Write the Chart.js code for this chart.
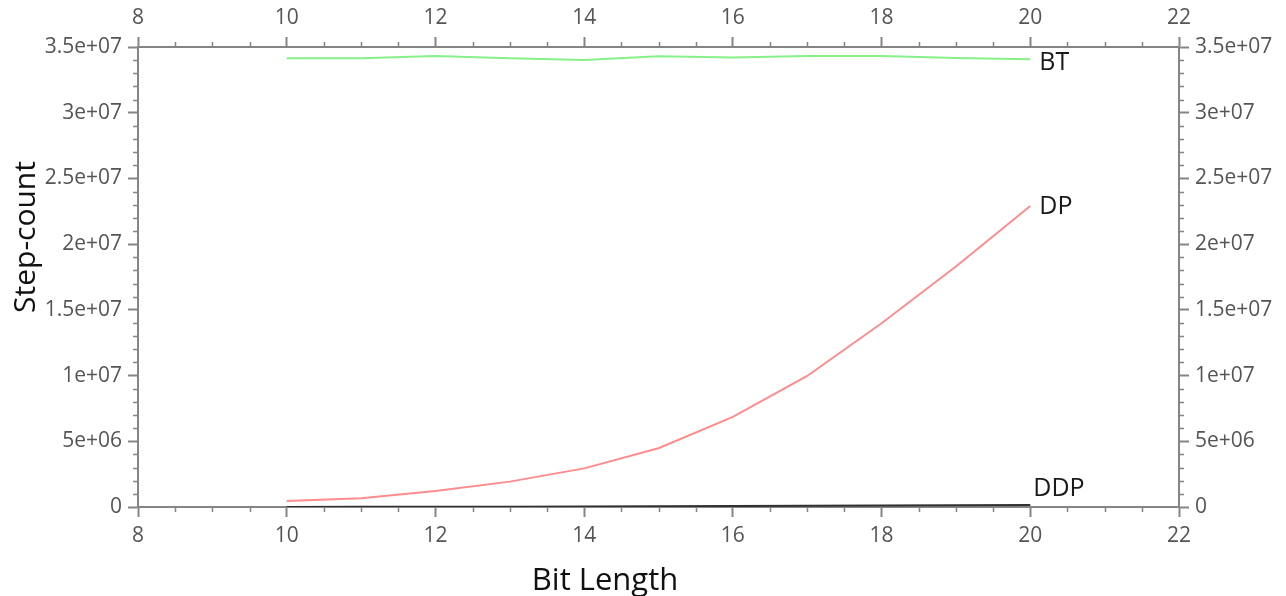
<!DOCTYPE html>
<html>
<head>
<meta charset="utf-8">
<script src="https://cdn.jsdelivr.net/npm/chart.js@4.4.1/dist/chart.umd.min.js"></script>
<style>
  html, body { margin: 0; padding: 0; background: #fff; overflow: hidden; }
  #wrap { width: 1286px; height: 606px; }
</style>
</head>
<body>
<div id="wrap"><canvas id="stepChart" width="1286" height="606"></canvas></div>
<script>
// dados
const bitLengths = [10, 11, 12, 13, 14, 15, 16, 17, 18, 19, 20];
const btSteps  = [3.414e7, 3.414e7, 3.431e7, 3.414e7, 3.401e7, 3.429e7, 3.420e7, 3.431e7, 3.431e7, 3.416e7, 3.406e7];
const dpSteps  = [0.46e6, 0.66e6, 1.22e6, 1.93e6, 2.94e6, 4.47e6, 6.85e6, 9.97e6, 1.398e7, 1.83e7, 2.29e7];
const ddpSteps = [5e3, 1e4, 1.5e4, 2.5e4, 4e4, 6e4, 8e4, 1e5, 1.2e5, 1.4e5, 1.6e5];
const seriesNames = ['BT', 'DP', 'DDP'];
const xTitle = 'Bit Length';
const yTitle = 'Step-count';

const xTicks = { min: 8, max: 22, step: 2, minor: 0.5 };
const yTicks = { min: 0, max: 3.5e7, step: 5e6, minor: 1e6 };

const axisGray = '#858585';
const labelGray = '#555555';
const font = 'Open Sans';

function fmtSci(v) {
  if (v === 0) return '0';
  return v.toExponential().replace(/e([+-])(\d)$/, 'e$10$2');
}

function toPoints(ys) {
  return bitLengths.map((x, i) => ({ x: x, y: ys[i] }));
}

// ticks menores nos quatro lados
const minorTicks = {
  id: 'minorTicks',
  afterDraw(chart) {
    const { ctx, chartArea: a, scales: { x, y } } = chart;
    ctx.save();
    ctx.strokeStyle = axisGray;
    ctx.lineWidth = 1.5;
    ctx.beginPath();
    for (let v = xTicks.min; v <= xTicks.max; v += xTicks.minor) {
      if (Math.abs(v % xTicks.step) < 1e-9) continue;
      const px = Math.round(x.getPixelForValue(v)) + 0.5;
      ctx.moveTo(px, a.top); ctx.lineTo(px, a.top - 5);
      ctx.moveTo(px, a.bottom); ctx.lineTo(px, a.bottom + 5);
    }
    for (let v = yTicks.min; v <= yTicks.max; v += yTicks.minor) {
      if (Math.abs(v % yTicks.step) < 1) continue;
      const py = Math.round(y.getPixelForValue(v)) + 0.5;
      ctx.moveTo(a.left, py); ctx.lineTo(a.left - 5, py);
      ctx.moveTo(a.right, py); ctx.lineTo(a.right + 5, py);
    }
    ctx.stroke();
    ctx.restore();
  }
};

// títulos dos eixos (fora do centro, como no original)
const axisTitles = {
  id: 'axisTitles',
  afterDraw(chart) {
    const { ctx } = chart;
    ctx.save();
    ctx.fillStyle = '#111';
    ctx.font = '31px "' + font + '"';
    ctx.textAlign = 'center';
    ctx.textBaseline = 'alphabetic';
    ctx.fillText(xTitle, 605, 590);
    ctx.translate(35, 237);
    ctx.rotate(-Math.PI / 2);
    ctx.font = '30px "' + font + '"';
    ctx.fillText(yTitle, 0, 0);
    ctx.restore();
  }
};

// rótulos no fim de cada série
const endLabels = {
  id: 'endLabels',
  afterDatasetsDraw(chart) {
    const { ctx } = chart;
    ctx.save();
    ctx.font = '25px "' + font + '"';
    ctx.fillStyle = '#1a1a1a';
    ctx.textBaseline = 'middle';
    ctx.textAlign = 'left';
    chart.data.datasets.forEach((ds, i) => {
      const meta = chart.getDatasetMeta(i);
      const last = meta.data[meta.data.length - 1];
      ctx.fillText(ds.label, last.x + ds.labelDx, last.y + ds.labelDy);
    });
    ctx.restore();
  }
};

function scaleOpts(position, isX) {
  const t = isX ? xTicks : yTicks;
  return {
    type: 'linear',
    position: position,
    min: t.min,
    max: t.max,
    border: { display: true, color: axisGray, width: 2 },
    grid: {
      drawOnChartArea: false,
      drawTicks: true,
      tickLength: 10,
      tickColor: axisGray,
      tickWidth: 2
    },
    ticks: {
      stepSize: t.step,
      autoSkip: false,
      maxRotation: 0,
      color: labelGray,
      padding: 6,
      font: { family: font, size: 21 },
      callback: isX ? (v => String(v)) : fmtSci
    }
  };
}

const xBottom = scaleOpts('bottom', true);
xBottom.afterFit = s => { s.height = 99; };

const xTop = scaleOpts('top', true);
xTop.afterFit = s => { s.height = 47; };

const yLeft = scaleOpts('left', false);
yLeft.afterFit = s => { s.width = 138; };

const yRight = scaleOpts('right', false);
yRight.afterFit = s => { s.width = 107; };

new Chart(document.getElementById('stepChart'), {
  type: 'line',
  data: {
    datasets: [
      {
        label: seriesNames[0],
        data: toPoints(btSteps),
        borderColor: '#88f088',
        borderWidth: 2,
        labelDx: 9, labelDy: 4
      },
      {
        label: seriesNames[1],
        data: toPoints(dpSteps),
        borderColor: '#ff8c8c',
        borderWidth: 2,
        labelDx: 9, labelDy: 1
      },
      {
        label: seriesNames[2],
        data: toPoints(ddpSteps),
        borderColor: '#303030',
        borderWidth: 2,
        labelDx: 3, labelDy: -16
      }
    ]
  },
  options: {
    responsive: false,
    animation: false,
    events: [],
    layout: { padding: 0 },
    elements: { point: { radius: 0 }, line: { tension: 0 } },
    plugins: {
      legend: { display: false },
      tooltip: { enabled: false }
    },
    scales: {
      x: xBottom,
      x2: xTop,
      y: yLeft,
      y2: yRight
    }
  },
  plugins: [minorTicks, axisTitles, endLabels]
});
</script>
</body>
</html>
